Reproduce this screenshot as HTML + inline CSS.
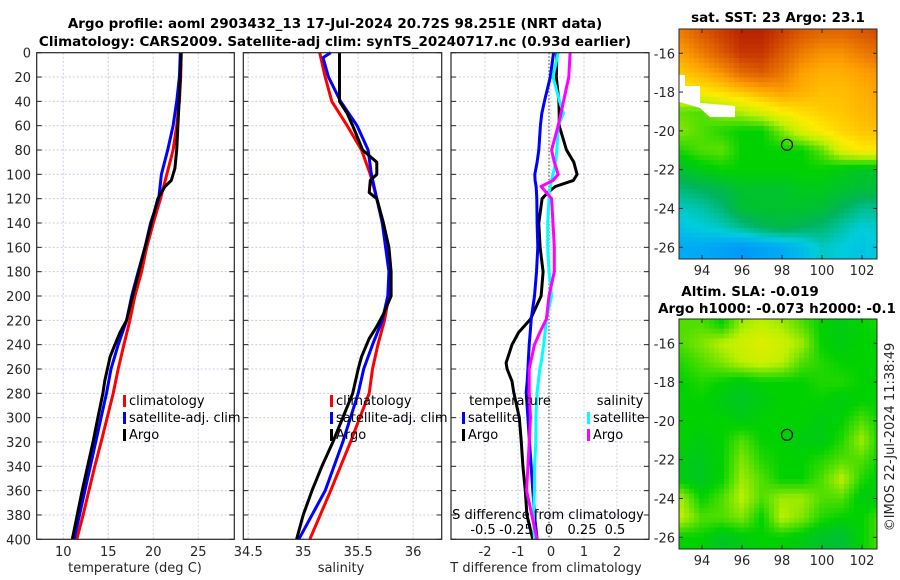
<!DOCTYPE html>
<html><head><meta charset="utf-8">
<style>
html,body{margin:0;padding:0;background:#fff;}
svg{display:block;font-family:"DejaVu Sans","Liberation Sans",sans-serif;}
.tk{font-size:13px;fill:#262626;}
.tt{font-size:13.5px;font-weight:bold;fill:#000;}
.lg{font-size:13px;fill:#000;}
</style></head>
<body>
<svg id="fig" width="900" height="580" viewBox="0 0 900 580" xmlns="http://www.w3.org/2000/svg">
<rect width="900" height="580" fill="#fff"/>
<g id="g"></g>
</svg>
<script>
// ---------- data ----------
const pT = [0,20,40,60,80,100,120,140,160,180,200,220,240,260,280,300,320,340,360,380,400];
const tempClim = [23.1,23.05,22.9,22.6,22.2,21.5,20.8,20.0,19.27,18.7,17.96,17.4,16.74,16.1,15.55,14.88,14.2,13.5,12.85,12.2,11.5];
const tempSat  = [23.0,22.9,22.6,22.2,21.6,20.9,20.6,19.7,19.08,18.33,17.6,17.04,16.1,15.3,14.8,14.2,13.6,13.0,12.4,11.8,11.2];
const pArgoT = [0,20,50,80,95,105,110,120,160,200,220,230,240,250,270,280,300,320,340,360,380,400];
const tempArgo = [23.1,23.0,22.8,22.6,22.4,22.0,21.3,20.5,19.08,17.7,17.04,16.3,15.74,15.2,14.6,14.4,13.85,13.3,12.7,12.1,11.55,11.0];

const pS = [0,4,20,40,60,80,100,120,140,180,200,220,240,260,280,320,360,400];
const salClim = [35.15,35.16,35.2,35.26,35.4,35.53,35.61,35.67,35.73,35.79,35.78,35.74,35.68,35.63,35.6,35.43,35.25,35.06];
const salSat  = [35.25,35.18,35.23,35.34,35.49,35.59,35.62,35.67,35.72,35.78,35.77,35.72,35.63,35.55,35.5,35.36,35.2,34.96];
const pArgoS = [0,40,50,60,80,90,100,105,115,120,140,160,180,200,215,225,235,250,260,280,320,340,360,380,400];
const salArgo = [35.33,35.33,35.4,35.45,35.54,35.67,35.67,35.61,35.6,35.67,35.73,35.78,35.8,35.8,35.73,35.67,35.6,35.53,35.5,35.45,35.27,35.17,35.08,35.0,34.94];

const pD = [0,20,40,50,60,80,90,100,105,110,115,120,140,160,180,200,219,230,240,255,260,270,279,300,320,340,360,380,400];
const dTsat = [0.08,-0.02,-0.2,-0.28,-0.32,-0.37,-0.42,-0.49,-0.48,-0.45,-0.44,-0.43,-0.42,-0.40,-0.44,-0.5,-0.6,-0.63,-0.66,-0.69,-0.7,-0.72,-0.75,-0.7,-0.65,-0.6,-0.55,-0.5,-0.42];
const dTargo = [0.18,0.16,0.24,0.25,0.25,0.47,0.69,0.79,0.68,0.13,-0.1,-0.27,-0.37,-0.33,-0.24,-0.3,-0.62,-0.98,-1.18,-1.36,-1.33,-1.18,-1.13,-0.96,-0.9,-0.85,-0.78,-0.73,-0.55];
const dSsat = [0.07,0.03,0.08,0.11,0.07,0.06,0.05,0.03,0.02,0.01,0.0,0.0,-0.01,-0.01,0.0,0.02,-0.02,-0.03,-0.04,-0.06,-0.07,-0.08,-0.09,-0.1,-0.1,-0.11,-0.11,-0.12,-0.11];
const dSargo = [0.16,0.15,0.11,0.09,0.07,0.02,0.04,0.07,0.03,-0.06,-0.02,0.02,0.03,0.04,0.04,0.0,-0.02,-0.07,-0.11,-0.14,-0.15,-0.15,-0.15,-0.14,-0.15,-0.16,-0.17,-0.13,-0.09];

const depthTicks = [0,20,40,60,80,100,120,140,160,180,200,220,240,260,280,300,320,340,360,380,400];
const tTicks = [10,15,20,25];
const sTicks = [34.5,35,35.5,36];
const dtTicks = [-2,-1,0,1,2];
const dsTicks = [-0.5,-0.25,0,0.25,0.5];
const dsTickLabels = ['-0.5','-0.25','0','0.25','0.5'];
const lonTicks = [94,96,98,100,102];
const latTicks = [-16,-18,-20,-22,-24,-26];
const mapLons = [93,94,95,96,97,98,99,100,101,102,103];
const mapLats = [-15,-16,-17,-18,-19,-20,-21,-22,-23,-24,-25,-26];
const sstGrid = [
[0.85,0.9,0.93,0.96,0.96,0.93,0.9,0.88,0.88,0.9,0.92],
[0.8,0.85,0.9,0.94,0.94,0.9,0.85,0.82,0.82,0.85,0.88],
[0.75,0.78,0.82,0.88,0.9,0.86,0.8,0.78,0.78,0.8,0.82],
[0.7,0.7,0.72,0.75,0.78,0.8,0.78,0.76,0.76,0.78,0.8],
[0.56,0.55,0.6,0.62,0.66,0.7,0.72,0.74,0.75,0.77,0.78],
[0.58,0.55,0.52,0.5,0.5,0.58,0.66,0.7,0.73,0.75,0.76],
[0.52,0.55,0.56,0.5,0.5,0.5,0.5,0.56,0.66,0.7,0.7],
[0.45,0.48,0.5,0.5,0.5,0.5,0.5,0.5,0.48,0.46,0.46],
[0.38,0.4,0.42,0.45,0.45,0.45,0.47,0.47,0.45,0.44,0.43],
[0.32,0.34,0.38,0.44,0.45,0.45,0.45,0.44,0.4,0.36,0.36],
[0.28,0.3,0.32,0.36,0.4,0.42,0.4,0.38,0.34,0.3,0.32],
[0.22,0.22,0.2,0.18,0.2,0.22,0.26,0.32,0.3,0.28,0.3]];
// missing-data (cloud) area of SST map, lon/lat vertices
const sstMissingLon = [92.85,93.15,93.15,93.9,93.9,95.65,95.65,94.4,93.9,92.85];
const sstMissingLat = [-17.12,-17.12,-17.69,-17.69,-18.56,-18.72,-19.29,-19.29,-18.82,-18.51];
const slaGrid = [
[0.55,0.55,0.5,0.6,0.62,0.6,0.55,0.5,0.48,0.5,0.52],
[0.55,0.58,0.62,0.64,0.66,0.64,0.6,0.5,0.48,0.5,0.5],
[0.52,0.55,0.58,0.62,0.64,0.62,0.55,0.52,0.5,0.5,0.5],
[0.5,0.52,0.5,0.48,0.5,0.5,0.5,0.52,0.52,0.5,0.5],
[0.5,0.5,0.48,0.46,0.48,0.5,0.5,0.5,0.48,0.5,0.5],
[0.5,0.5,0.5,0.48,0.5,0.5,0.5,0.48,0.5,0.55,0.5],
[0.5,0.48,0.5,0.55,0.5,0.5,0.48,0.48,0.52,0.6,0.5],
[0.48,0.47,0.5,0.58,0.52,0.5,0.5,0.52,0.55,0.55,0.5],
[0.48,0.46,0.5,0.6,0.55,0.5,0.5,0.55,0.62,0.52,0.48],
[0.6,0.5,0.55,0.62,0.55,0.6,0.6,0.55,0.55,0.48,0.48],
[0.62,0.55,0.55,0.58,0.5,0.62,0.58,0.52,0.5,0.5,0.55],
[0.5,0.5,0.46,0.48,0.5,0.5,0.48,0.45,0.44,0.5,0.55]];
const argoLon = 98.25, argoLat = -20.72;

// ---------- helpers ----------
const NS='http://www.w3.org/2000/svg';
const G=document.getElementById('g');
function mk(tag,attrs,parent){const e=document.createElementNS(NS,tag);for(const k in attrs)e.setAttribute(k,attrs[k]);(parent||G).appendChild(e);return e;}
function txt(x,y,s,cls,anchor,parent){const e=mk('text',{x:x,y:y,class:cls,'text-anchor':anchor||'middle'},parent);e.textContent=s;return e;}
const yTop=52.7, yBot=539.3;
function yP(p){return yTop+(yBot-yTop)*p/400;}

function panel(name,x0,x1,xmin,xmax,ticks,labels){
  const g=mk('g',{});
  
  
  const sx=v=>x0+(x1-x0)*(v-xmin)/(xmax-xmin);
  ticks.forEach(t=>mk('line',{x1:sx(t),x2:sx(t),y1:yTop,y2:yBot,stroke:'#c8cde8','stroke-width':1,'stroke-dasharray':'2,2'},g));
  depthTicks.forEach(p=>{if(p>0&&p<400)mk('line',{x1:x0,x2:x1,y1:yP(p),y2:yP(p),stroke:'#c8cde8','stroke-width':1,'stroke-dasharray':'2,2'},g);});
  depthTicks.forEach(p=>{mk('line',{x1:x0,x2:x0+5,y1:yP(p),y2:yP(p),stroke:'#262626'},g);mk('line',{x1:x1-5,x2:x1,y1:yP(p),y2:yP(p),stroke:'#262626'},g);});
  if(labels) ticks.forEach((t,i)=>{const e=txt(sx(t),556,labels[i],'tk','middle',g);
    
    });
  return {g,sx,x0,x1};
}
function frame(P){mk('rect',{x:P.x0,y:yTop,width:P.x1-P.x0,height:yBot-yTop,fill:'none',stroke:'#262626','stroke-width':1.2},P.g);}
function line(P,vals,ps,color,name,w){
  const d=vals.map((v,i)=>(i?'L':'M')+P.sx(v).toFixed(1)+','+yP(ps[i]).toFixed(1)).join('');
  const e=mk('path',{d:d,fill:'none',stroke:color,'stroke-width':w||3,'stroke-linejoin':'round'},P.g);
  
  
}
function legend(P,x,y,color,label){
  mk('rect',{x:x,y:y-10,width:3,height:12,fill:color},P.g);
  const e=txt(x+6,y,label,'lg','start',P.g);
  
  
}

// ---------- titles ----------
let t1=txt(335,28,'Argo profile: aoml 2903432_13 17-Jul-2024 20.72S 98.251E (NRT data)','tt');


let t2=txt(335,46,'Climatology: CARS2009. Satellite-adj clim: synTS_20240717.nc (0.93d earlier)','tt');



depthTicks.forEach(p=>{const e=txt(31,yP(p)+5,String(p),'tk','end');
  
  });

// ---------- panel 1 temperature ----------
const P1=panel('temperature-panel',36.7,234.3,7.05,29,tTicks,tTicks.map(String));
line(P1,tempClim,pT,'#ff0000','temp-climatology-line');
line(P1,tempSat,pT,'#0000ff','temp-satellite-line');
line(P1,tempArgo,pArgoT,'#000000','temp-argo-line');
frame(P1);
legend(P1,123,405,'#ff0000','climatology');
legend(P1,123,422,'#0000ff','satellite-adj. clim');
legend(P1,123,439,'#000000','Argo');
let xl1=txt(135,572,'temperature (deg C)','tk');



// ---------- panel 2 salinity ----------
const P2=panel('salinity-panel',243.3,441.7,34.455,36.26,sTicks,['34.5','35','35.5','36']);
line(P2,salClim,pS,'#ff0000','sal-climatology-line');
line(P2,salSat,pS,'#0000ff','sal-satellite-line');
line(P2,salArgo,pArgoS,'#000000','sal-argo-line');
frame(P2);
legend(P2,330,405,'#ff0000','climatology');
legend(P2,330,422,'#0000ff','satellite-adj. clim');
legend(P2,330,439,'#000000','Argo');
let xl2=txt(341,572,'salinity','tk');



// ---------- panel 3 differences ----------
const P3=panel('difference-panel',451,649,-3.03,2.97,dtTicks,dtTicks.map(String));
const sxS=v=>549+132*v;
const P3s={g:P3.g,sx:sxS,x0:451,x1:649};
mk('line',{x1:549,x2:549,y1:yTop,y2:yBot,stroke:'#555','stroke-width':1.2,'stroke-dasharray':'1.5,2'},P3.g);
line(P3,dTargo,pD,'#000000','dT-argo-line');
line(P3,dTsat,pD,'#0000ff','dT-satellite-line');
line(P3s,dSsat,pD,'#00ffff','dS-satellite-line');
line(P3s,dSargo,pD,'#ff00ff','dS-argo-line');
frame(P3);
txt(510,405,'temperature','lg');
txt(620,405,'salinity','lg');
legend(P3,462,422,'#0000ff','satellite');
legend(P3,462,439,'#000000','Argo');
legend(P3,587,422,'#00ffff','satellite');
legend(P3,587,439,'#ff00ff','Argo');
let dsT=txt(548,519,'S difference from climatology','lg');


dsTicks.forEach((v,i)=>{const e=txt(sxS(v),534,dsTickLabels[i],'lg');
  
  });
let xl3=txt(546,572,'T difference from climatology','tk');



// ---------- maps ----------
const cstops=[[0,[0,80,255]],[0.22,[0,170,245]],[0.3,[0,205,220]],[0.4,[0,180,90]],[0.5,[0,210,0]],[0.62,[190,240,0]],[0.7,[255,235,0]],[0.8,[255,160,0]],[0.9,[220,90,0]],[1,[165,0,0]]];
function cmap(v){for(let i=1;i<cstops.length;i++){if(v<=cstops[i][0]){const a=cstops[i-1],b=cstops[i];const f=(v-a[0])/(b[0]-a[0]);return 'rgb('+a[1].map((c,k)=>Math.round(c+(b[1][k]-c)*f)).join(',')+')';}}return 'rgb(165,0,0)';}
function sample(grid,lon,lat){
  const fc=Math.max(0,Math.min(mapLons.length-1.001,lon-mapLons[0]));
  const fr=Math.max(0,Math.min(mapLats.length-1.001,mapLats[0]-lat));
  const c=Math.floor(fc),r=Math.floor(fr),dc=fc-c,dr=fr-r;
  return grid[r][c]*(1-dc)*(1-dr)+grid[r][c+1]*dc*(1-dr)+grid[r+1][c]*(1-dc)*dr+grid[r+1][c+1]*dc*dr;
}
function drawMap(name,top,grid,titles,maskLon,maskLat){
  const x0=679,x1=877,bot=top+230;
  const lx=l=>x0+(l-92.85)*20.0;
  const ly=l=>top+(-14.75-l)*19.4;
  const g=mk('g',{});
  
  
  const cg=mk('g',{},g);
  const step=0.25;
  for(let lat=-14.75;lat>-26.75;lat-=step){
    for(let lon=92.85;lon<102.75;lon+=step){
      const v=sample(grid,lon+step/2,lat-step/2);
      const w=Math.min(step,102.75-lon)*20, h=Math.min(step,lat+26.6)*19.4;
      if(w<=0||h<=0)continue;
      const e=mk('rect',{x:lx(lon).toFixed(1),y:ly(lat).toFixed(1),width:(w+0.6).toFixed(1),height:(h+0.6).toFixed(1),fill:cmap(v)},cg);
      
      
    }
  }
  if(maskLon){
    const pts=maskLon.map((l,i)=>lx(l).toFixed(1)+','+ly(maskLat[i]).toFixed(1)).join(' ');
    const m=mk('polygon',{points:pts,fill:'#ffffff'},g);
    
    
  }
  mk('rect',{x:x1,y:top-1,width:10,height:bot-top+2,fill:'#fff'},g);
  mk('rect',{x:x0-1,y:bot,width:x1-x0+2,height:8,fill:'#fff'},g);
  mk('rect',{x:x0,y:top,width:x1-x0,height:bot-top,fill:'none',stroke:'#262626'},g);
  lonTicks.forEach(l=>{mk('line',{x1:lx(l),x2:lx(l),y1:bot,y2:bot-4,stroke:'#262626'},g);mk('line',{x1:lx(l),x2:lx(l),y1:top,y2:top+4,stroke:'#262626'},g);
    const e=txt(lx(l),bot+16,String(l),'tk','middle',g);
    
    });
  latTicks.forEach(l=>{mk('line',{x1:x0,x2:x0+4,y1:ly(l),y2:ly(l),stroke:'#262626'},g);mk('line',{x1:x1-4,x2:x1,y1:ly(l),y2:ly(l),stroke:'#262626'},g);
    const e=txt(x0-4,ly(l)+5,String(l),'tk','end',g);
    
    });
  const c=mk('circle',{cx:lx(argoLon),cy:ly(argoLat),r:5.5,fill:'none',stroke:'#000','stroke-width':1.2},g);
  
  
  titles.forEach(tt=>{const e=txt(tt[0],tt[1],tt[2],'tt','middle',g);
    
    });
}
drawMap('sst-map',29,sstGrid,[[778,22,'sat. SST: 23 Argo: 23.1']],sstMissingLon,sstMissingLat);
drawMap('sla-map',319,slaGrid,[[750,296,'Altim. SLA: -0.019'],[777,313,'Argo h1000: -0.073 h2000: -0.1']]);

let cp=txt(0,0,'©IMOS 22-Jul-2024 11:38:49','tk');
cp.setAttribute('transform','translate(894,437) rotate(-90)');


</script>
</body></html>
